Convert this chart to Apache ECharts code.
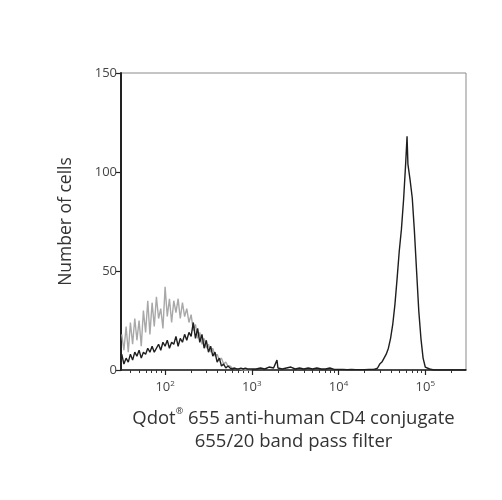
<!DOCTYPE html>
<html>
<head>
<meta charset="utf-8">
<script src="https://cdn.jsdelivr.net/npm/echarts@6/dist/echarts.min.js"></script>
<style>
html,body{margin:0;padding:0;background:#fff;}
#chart{width:502px;height:500px;}
</style>
</head>
<body>
<div id="chart"></div>
<script>
// ---- data (fluorescence intensity channels, cell counts) ----
const lowChannels = [31.6,33.5,35.5,37.6,39.8,42.2,44.7,47.3,50.1,53.1,56.2,59.6,63.1,66.8,70.8,75.0,79.4,84.1,89.1,94.4,
  100,105.9,112.2,118.9,125.9,133.4,141.3,149.6,158.5,167.9,177.8,188.4,199.5,211.3,223.9,237.1,251.2,266.1,281.8,298.5,
  316.2,335.0,354.8,375.8,398.1,421.7,446.7,473.2,501.2,530.9,562.3,595.7,631.0,668.3,707.9,749.9,794.3,841.4,891.3,944.1,1000];
const grayCounts = [18,10,22,9,24,13,26,15,25,12,30,19,35,18,34,22,37,26,31,21,
  42,27,36,24,35,29,36,26,34,27,31,24,28,20,23,16,19,13,16,11,
  13,9,11,7,8,5,6,3,4,2,2,1,1,0.5,0.5,0.3,0,0,0,0,0];
const blackLowCounts = [8,3,6,4,8,5,9,7,10,6,9,8,11,9,12,9,11,13,10,14,
  12,15,11,14,13,17,12,16,14,18,15,19,17,24,16,21,14,18,11,15,
  9,12,7,9,4,6,2,3,1,2,1,0.5,1,0.5,0.5,1,0.5,1,0.5,0.5,0.5];
const midChannels = [1120,1260,1410,1580,1780,1950,2000,2240,2510,2820,3160,3550,3980,4470,5010,5620,6310,7080,7940,8910,
  10000,11220,12590,14130,15850,17780,19950,22390,25120,26610];
const blackMidCounts = [0.5,1,0.5,1.5,1,5,1,0.5,1,1.5,0.5,1,0.5,1,0.5,1,0.5,0.5,1,0.3,
  0.3,0.3,0.2,0.3,0.2,0.2,0.2,0.3,0.3,0.5];
const peakChannels = [28180,29850,31620,33500,35480,37580,39810,42170,44670,47320,50120,53090,56230,59570,61660,63100,
  66830,70790,74990,79430,84140,89130,94410,100000,112200,125900,158500,199500,295000];
const blackPeakCounts = [1,3,4,6,8,11,16,23,33,46,60,71,86,105,118,104,
  96,87,70,50,30,16,6,1.5,0.5,0,0,0,0];

const yTicks = [0,50,100,150];
const xMajorTicks = [100,1000,10000,100000];
const xMinorTicks = [40,50,60,70,80,90,200,300,400,500,600,700,800,900,
  2000,3000,4000,5000,6000,7000,8000,9000,20000,30000,40000,50000,60000,70000,80000,90000,200000];
const xTitleLine1 = ['Qdot', '®', ' 655 anti-human CD4 conjugate'];
const xTitleLine2 = '655/20 band pass filter';
const yTitle = 'Number of cells';

// ---- build series ----
const zip = (xs, ys) => xs.map((x, i) => [x, ys[i]]);
const grayData = zip(lowChannels, grayCounts);
const blackData = zip(lowChannels, blackLowCounts)
  .concat(zip(midChannels, blackMidCounts))
  .concat(zip(peakChannels, blackPeakCounts));

const FONT = 'Open Sans';
const chart = echarts.init(document.getElementById('chart'), null, {renderer:'canvas'});
chart.setOption({
  animation: false,
  backgroundColor: '#fff',
  grid: {left:121, right:36, top:73, bottom:130, show:true, borderColor:'#8a8a8a', borderWidth:1, backgroundColor:'transparent'},
  xAxis: [{
    type: 'log', logBase: 10, min: 31, max: 295000,
    name: '{a|' + xTitleLine1[0] + '}{s|' + xTitleLine1[1] + '}{a|' + xTitleLine1[2] + '}\n{a|' + xTitleLine2 + '}',
    nameLocation: 'middle', nameGap: 37,
    nameTextStyle: {rich: {
      a: {fontFamily: FONT, fontSize: 18.5, color: '#333', lineHeight: 23},
      s: {fontFamily: FONT, fontSize: 9, color: '#333', verticalAlign: 'top', lineHeight: 23}
    }},
    axisLine: {show: true, onZero: false, lineStyle: {color: '#222', width: 1.5}},
    axisTick: {show: true, length: 5, customValues: xMajorTicks, lineStyle: {color: '#222', width: 1.2}},
    axisLabel: {show: true, customValues: xMajorTicks, margin: 10,
      formatter: v => '{b|10}{s|' + Math.round(Math.log10(v)) + '}',
      rich: {b: {fontFamily: FONT, fontSize: 13, color: '#444'},
             s: {fontFamily: FONT, fontSize: 8, color: '#444', verticalAlign: 'top', padding:[0,0,7,0]}}},
    splitLine: {show: false}, minorTick: {show: false}
  }, {
    type: 'log', logBase: 10, min: 31, max: 295000, position: 'bottom',
    axisLine: {show: false},
    axisTick: {show: true, length: 3, customValues: xMinorTicks, lineStyle: {color: '#333', width: 1}},
    axisLabel: {show: false}, splitLine: {show: false}
  }],
  yAxis: {
    type: 'value', min: 0, max: 150, interval: 50,
    name: yTitle, nameLocation: 'middle', nameGap: 46, nameRotate: 90,
    nameTextStyle: {fontFamily: FONT, fontSize: 17.5, color: '#333'},
    axisLine: {show: true, lineStyle: {color: '#222', width: 2}},
    axisTick: {show: true, length: 5, lineStyle: {color: '#222', width: 1.2}},
    axisLabel: {fontFamily: FONT, fontSize: 13, color: '#444', margin: 4,
      customValues: yTicks},
    splitLine: {show: false}
  },
  series: [{
    type: 'line', name: 'control', xAxisIndex: 0, data: grayData, showSymbol: false,
    lineStyle: {color: '#a8a8a8', width: 1.4}, z: 2
  }, {
    type: 'line', name: 'CD4', xAxisIndex: 0, data: blackData, showSymbol: false,
    lineStyle: {color: '#1e1e1e', width: 1.4}, z: 3
  }]
});
</script>
</body>
</html>
